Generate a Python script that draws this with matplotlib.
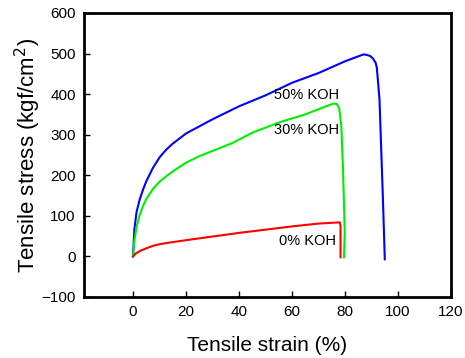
import matplotlib
matplotlib.use("Agg")
import matplotlib.pyplot as plt

plt.rcParams['font.family'] = ['Liberation Sans', 'DejaVu Sans']

# 50% KOH
strain_50 = [0, 0.5, 1.3, 2.5, 3.8, 5, 7.5, 10, 12.5, 15, 20, 30, 40, 50, 60, 70, 80, 87, 88,
             89.5, 90.5, 91.5, 92, 93, 94.3, 95]
stress_50 = [0, 65, 108, 140, 165, 185, 218, 244, 263, 278, 303, 338, 370, 397, 428, 452, 481, 498, 497,
             494, 488, 478, 465, 387, 141, -7]

# 30% KOH
strain_30 = [0, 0.5, 1.3, 2.5, 3.8, 5, 7.5, 10, 12.6, 16, 20, 25, 30, 37.7, 45, 55, 65, 74, 76, 77, 77.8,
             78.6, 79.2, 79.9, 79.6]
stress_30 = [0, 38, 72, 102, 125, 141, 166, 184, 198, 214, 231, 247, 260, 280, 305, 330, 350, 373, 377, 375, 365,
             321, 223, 59, -2]

# 0% KOH
strain_0 = [0, 1, 2.5, 5, 7.5, 10, 12.6, 20, 30, 40, 50, 60, 70, 78, 78.3, 78.3]
stress_0 = [0, 7, 13, 20, 26, 30, 33, 40, 49, 58, 66, 74, 81, 84, 75, -2]

x_ticks = [0, 20, 40, 60, 80, 100, 120]
y_ticks = [-100, 0, 100, 200, 300, 400, 500, 600]

fig = plt.figure(figsize=(4.65, 3.58), dpi=100)
ax = fig.add_axes([0.1806, 0.1704, 0.7894, 0.7933])

ax.plot(strain_50, stress_50, color="#0000ff", linewidth=1.5)
ax.plot(strain_30, stress_30, color="#00ee00", linewidth=1.5)
ax.plot(strain_0, stress_0, color="#ff0000", linewidth=1.5)

ax.text(65.4, 397, "50% KOH", fontsize=10.5, ha="center", va="center")
ax.text(65.4, 311, "30% KOH", fontsize=10.5, ha="center", va="center")
ax.text(66, 37, "0% KOH", fontsize=10.5, ha="center", va="center")

ax.set_xlim(-18.5, 120)
ax.set_ylim(-100, 600)
ax.set_xticks(x_ticks)
ax.set_yticks(y_ticks)
ax.tick_params(direction="in", length=4, width=1, labelsize=11, pad=6)
for s in ax.spines.values():
    s.set_linewidth(2)

ax.set_xlabel("Tensile strain (%)", fontsize=15, labelpad=12)
ax.set_ylabel("Tensile stress (kgf/cm$^2$)", fontsize=16, labelpad=-1)

fig.savefig("out.png", dpi=100)
